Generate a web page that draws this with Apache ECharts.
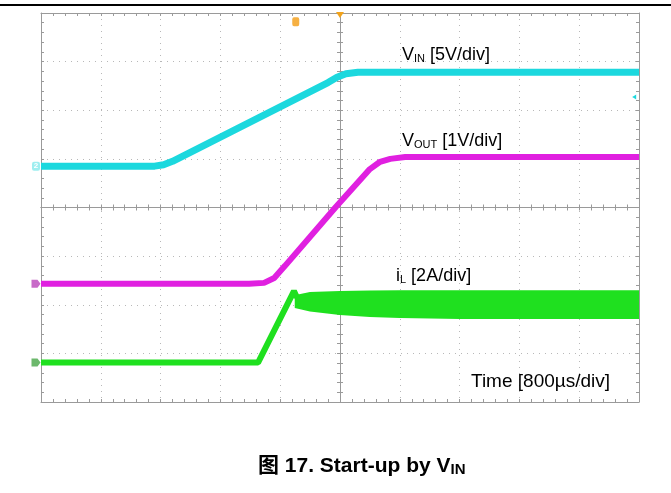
<!DOCTYPE html>
<html>
<head>
<meta charset="UTF-8">
<title>Start-up by VIN</title>
<script src="https://cdn.jsdelivr.net/npm/echarts@6/dist/echarts.min.js"></script>
<style>body{margin:0;background:#fff;}</style>
</head>
<body>
<div id="main" style="width:671px;height:493px;"></div>
<script>
// scope screen in divisions: x -5..5 (800us/div), y -4..4, centre = 0,0
var vinX = [-5, -3.1, -2.95, -2.8, -0.2, -0.05, 0.1, 0.3, 5];
var vinY = [0.85, 0.85, 0.88, 0.95, 2.57, 2.68, 2.75, 2.78, 2.78];

var voutX = [-5, -1.52, -1.27, -1.1, -0.92, -0.07, 0.5, 0.67, 0.84, 1.09, 5];
var voutY = [-1.57, -1.57, -1.55, -1.45, -1.2, 0.01, 0.79, 0.94, 1.0, 1.04, 1.04];

var ilX = [-5, -1.37, -0.77, -0.72];
var ilY = [-3.19, -3.19, -1.72, -1.85];

// switching ripple envelope of iL
var bandX = [-0.74, -0.5, 0, 0.5, 1, 2, 5];
var bandTop = [-1.82, -1.76, -1.74, -1.73, -1.72, -1.72, -1.72];
var bandBottom = [-2.05, -2.12, -2.19, -2.23, -2.25, -2.27, -2.27];

function pairs(xs, ys) {
  return xs.map(function (x, i) { return [x, ys[i]]; });
}

var gridCol = '#b8b8b8';
var edgeCol = '#9a9a9a';
var font = '"Liberation Sans", Arial, "Noto Sans CJK SC", sans-serif';

function xAx(pos, onZero, split) {
  return {
    type: 'value', min: -5, max: 5, interval: 1, position: pos,
    axisLine: { show: true, onZero: onZero, onZeroAxisIndex: 0, lineStyle: { color: edgeCol, width: 1 } },
    axisTick: { show: true, inside: !onZero, length: 3, lineStyle: { color: edgeCol } },
    minorTick: { show: true, splitNumber: 5, length: 3, lineStyle: { color: edgeCol } },
    axisLabel: { show: false },
    splitLine: { show: split, lineStyle: { color: gridCol, type: [1, 5] } }
  };
}
function yAx(pos, onZero, split) {
  return {
    type: 'value', min: -4, max: 4, interval: 1, position: pos,
    axisLine: { show: true, onZero: onZero, onZeroAxisIndex: 0, lineStyle: { color: edgeCol, width: 1 } },
    axisTick: { show: true, inside: !onZero, length: 3, lineStyle: { color: edgeCol } },
    minorTick: { show: true, splitNumber: 5, length: 3, lineStyle: { color: edgeCol } },
    axisLabel: { show: false },
    splitLine: { show: split, lineStyle: { color: gridCol, type: [1, 5] } }
  };
}

function rich(size, subSize, bold) {
  var w = bold ? 'bold' : 'normal';
  return {
    m: { fontSize: size, fontWeight: w, fontFamily: font, color: '#000', lineHeight: size + 2, verticalAlign: 'bottom' },
    s: { fontSize: subSize, fontWeight: w, fontFamily: font, color: '#000', lineHeight: subSize - 3, verticalAlign: 'bottom' }
  };
}

var myChart = echarts.init(document.getElementById('main'));
myChart.setOption({
  backgroundColor: '#fff',
  animation: false,
  grid: { left: 41, top: 13, width: 598, height: 389, show: false },
  xAxis: [xAx('bottom', false, true), xAx('top', false, false), xAx('bottom', true, false), xAx('top', true, false)],
  yAxis: [yAx('left', false, true), yAx('right', false, false), yAx('left', true, false), yAx('right', true, false)],
  series: [
    {
      name: 'VIN', type: 'line', data: pairs(vinX, vinY), showSymbol: false, z: 5,
      lineStyle: { color: '#1cd8de', width: 7 },
      markPoint: {
        data: [
          { coord: [-5, vinY[0]], symbol: 'roundRect', symbolSize: [8, 9], symbolOffset: [-5, 0],
            itemStyle: { color: '#9eeef0' }, label: { show: true, formatter: '2', color: '#fff', fontSize: 8, fontWeight: 'bold' } },
          { coord: [0, 4], symbol: 'triangle', symbolRotate: 180, symbolSize: [8, 6], symbolOffset: [0, 2],
            itemStyle: { color: '#f2a31b' }, label: { show: false } },
          { coord: [-0.74, 3.82], symbol: 'roundRect', symbolSize: [7, 9],
            itemStyle: { color: '#f6b042' }, label: { show: false } },
          { coord: [4.92, 2.27], symbol: 'triangle', symbolRotate: 90, symbolSize: [5, 4],
            itemStyle: { color: '#1cd8de' }, label: { show: false } }
        ]
      }
    },
    {
      name: 'VOUT', type: 'line', data: pairs(voutX, voutY), showSymbol: false, z: 5,
      lineStyle: { color: '#e020e0', width: 6 },
      markPoint: {
        data: [
          { coord: [-5, voutY[0]], symbol: 'path://M0,0 L6,0 L9,4 L6,8 L0,8 Z', symbolSize: [9, 8], symbolOffset: [-5, 0],
            itemStyle: { color: '#c86ac8' }, label: { show: false } }
        ]
      }
    },
    {
      name: 'iL', type: 'line', data: pairs(ilX, ilY), showSymbol: false, z: 5,
      lineStyle: { color: '#1fe01f', width: 6 },
      markPoint: {
        data: [
          { coord: [-5, ilY[0]], symbol: 'path://M0,0 L6,0 L9,4 L6,8 L0,8 Z', symbolSize: [9, 8], symbolOffset: [-5, 0],
            itemStyle: { color: '#6cb86c' }, label: { show: false } }
        ]
      }
    },
    {
      name: 'iL ripple', type: 'custom', z: 4, clip: true,
      data: [[bandX[0], bandTop[0]]],
      renderItem: function (params, api) {
        var pts = [];
        for (var i = 0; i < bandX.length; i++) pts.push(api.coord([bandX[i], bandTop[i]]));
        for (var j = bandX.length - 1; j >= 0; j--) pts.push(api.coord([bandX[j], bandBottom[j]]));
        return {
          type: 'polygon',
          shape: { points: pts },
          style: { fill: '#1fe01f', stroke: '#1fe01f', lineWidth: 2 }
        };
      }
    }
  ],
  graphic: [
    { type: 'line', shape: { x1: 0, y1: 5, x2: 671, y2: 5 }, style: { stroke: '#000', lineWidth: 2 } },
    { type: 'text', x: 402, y: 44, z: 10, style: { text: '{m|V}{s|IN}{m| [5V/div]}', rich: rich(18, 11, false) } },
    { type: 'text', x: 402, y: 130, z: 10, style: { text: '{m|V}{s|OUT}{m| [1V/div]}', rich: rich(18, 11, false) } },
    { type: 'text', x: 396, y: 265, z: 10, style: { text: '{m|i}{s|L}{m| [2A/div]}', rich: rich(18, 11, false) } },
    { type: 'text', x: 471, y: 372, z: 10, style: { text: 'Time [800µs/div]', fontSize: 19, fontFamily: font, fill: '#000' } },
    { type: 'text', x: 258, y: 454, z: 10, style: { text: '{m|图 17. Start-up by V}{s|IN}', rich: rich(21, 15, true) } }
  ]
});
</script>
</body>
</html>
